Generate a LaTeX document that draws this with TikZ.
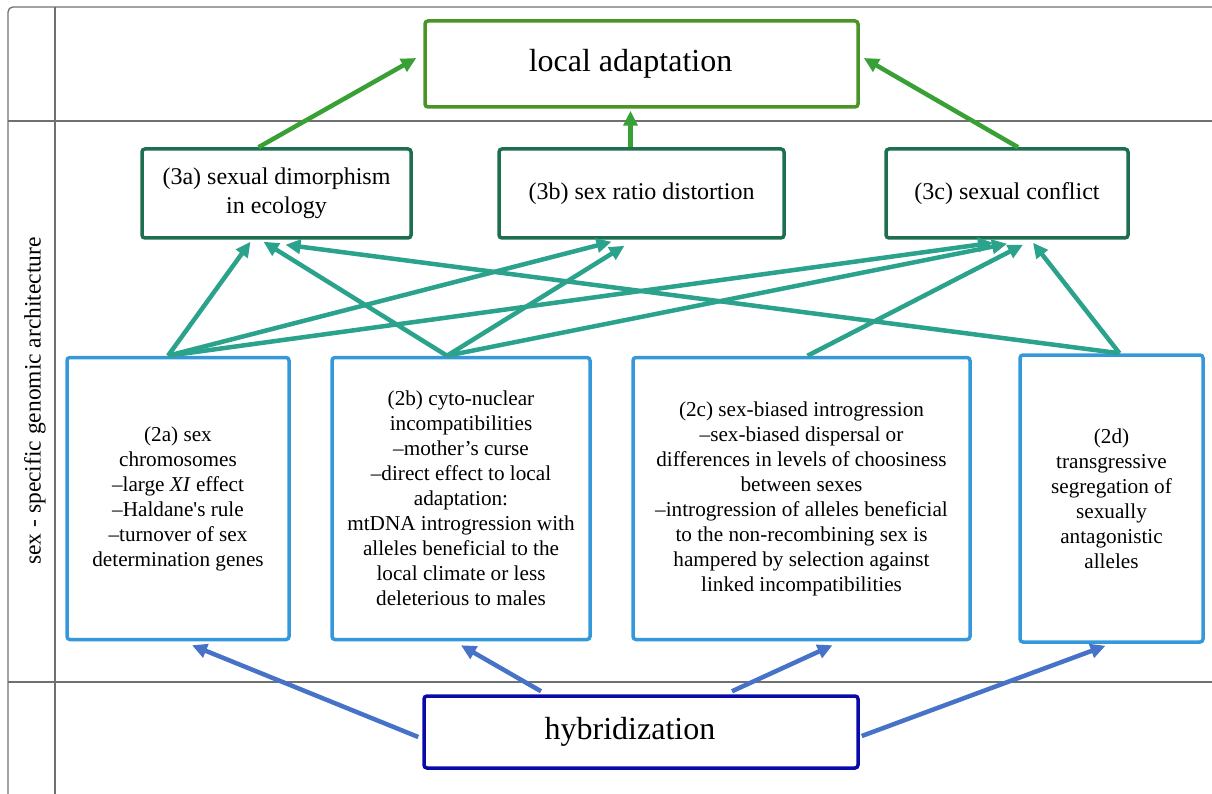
\documentclass[tikz,border=0pt]{standalone}
\usepackage{fontspec}
\setmainfont{Liberation Serif}[Ligatures=TeXOff]
\usepackage{tikz}
\usetikzlibrary{arrows.meta}
\usepackage{xcolor}
\definecolor{tablegray}{HTML}{707070}
\definecolor{lagreen}{HTML}{4A9426}
\definecolor{arrgreen}{HTML}{38A034}
\definecolor{effteal}{HTML}{1E6E50}
\definecolor{arrteal}{HTML}{2AA28C}
\definecolor{archblue}{HTML}{3498DB}
\definecolor{arrblue}{HTML}{4673C8}
\definecolor{hybblue}{HTML}{0A0AAA}
\newcommand\boxfont{\fontsize{21.2}{25}\selectfont}
\newcommand\effont{\fontsize{24}{29}\selectfont}
\newcommand\bigfont{\fontsize{32}{38}\selectfont}

\begin{document}
\begin{tikzpicture}[x=1pt,y=-1pt,
  grid/.style={draw=tablegray,line width=1.3pt},
  labbox/.style={line width=3.5pt,rounded corners=3pt,align=center,inner sep=0pt},
  topbox/.style={labbox,draw=lagreen,minimum width=433pt,minimum height=86pt,font=\bigfont},
  effbox/.style={labbox,draw=effteal,minimum height=89pt,font=\effont},
  archbox/.style={labbox,draw=archblue,minimum height=282pt,font=\boxfont},
  hybbox/.style={labbox,draw=hybblue,minimum width=434pt,minimum height=72pt,font=\bigfont},
  upgreen/.style={draw=arrgreen,line width=4.5pt,-{Triangle[length=15pt,width=14pt]}},
  upteal/.style={draw=arrteal,line width=4.5pt,-{Triangle[length=15pt,width=14pt]}},
  upblue/.style={draw=arrblue,line width=4.5pt,-{Triangle[length=15pt,width=14pt]}}]
\useasboundingbox (0,0) rectangle (1212,794);

% table frame
\draw[grid,rounded corners=5pt] (8,794) -- (8,7) -- (1212,7);
\draw[grid] (55,7) -- (55,794);
\draw[grid] (8,121) -- (1212,121);
\draw[grid] (8,682) -- (1212,682);
\node[rotate=90,font=\fontsize{23.5}{28}\selectfont] (arch) at (35,401) {sex - specific genomic architecture};

% outcome
\node[topbox] (la) at (641.5,64) {local adaptation\hspace*{22pt}};

% effects
\node[effbox,minimum width=269pt] (n3a) at (276.5,193.5) {(3a) sexual dimorphism\\in ecology};
\node[effbox,minimum width=285pt] (n3b) at (641.5,193.5) {(3b) sex ratio distortion};
\node[effbox,minimum width=242pt] (n3c) at (1007,193.5) {(3c) sexual conflict};

% genomic architecture
\node[archbox,minimum width=222pt] (n2a) at (178,498.5) {(2a) sex\\chromosomes\\–large \textit{XI} effect\\–Haldane's rule\\–turnover of sex\\determination genes};
\node[archbox,minimum width=258pt] (n2b) at (461,498.5) {(2b) cyto-nuclear\\incompatibilities\\–mother’s curse\\–direct effect to local\\adaptation:\\mtDNA introgression with\\alleles beneficial to the\\local climate or less\\deleterious to males};
\node[archbox,minimum width=337pt] (n2c) at (801.5,498.5) {(2c) sex-biased introgression\\–sex-biased dispersal or\\differences in levels of choosiness\\between sexes\\–introgression of alleles beneficial\\to the non-recombining sex is\\hampered by selection against\\linked incompatibilities};
\node[archbox,minimum width=183pt,minimum height=287pt] (n2d) at (1111.5,498.5) {(2d)\\transgressive\\segregation of\\sexually\\antagonistic\\alleles};

% origin
\node[hybbox] (hy) at (641,732) {hybridization\hspace*{22pt}};

% effects -> local adaptation
\draw[upgreen] ([xshift=-18pt]n3a.north) -- ([xshift=-7pt,yshift=6pt]la.west);
\draw[upgreen] ([xshift=-11pt]n3b.north) -- ([xshift=-11pt,yshift=-2pt]la.south);
\draw[upgreen] ([xshift=11pt]n3c.north) -- ([xshift=4pt,yshift=6pt]la.east);

% architecture -> effects
\draw[upteal] ([xshift=-10pt]n2a.north) -- ([xshift=-26pt,yshift=-2pt]n3a.south);
\draw[upteal] ([xshift=-10pt]n2a.north) -- ([xshift=-30pt,yshift=-2pt]n3b.south);
\draw[upteal] ([xshift=-10pt]n2a.north) -- ([xshift=-14pt,yshift=-3pt]n3c.south);
\draw[upteal] ([xshift=-14pt]n2b.north) -- ([xshift=-13pt,yshift=-2pt]n3a.south);
\draw[upteal] ([xshift=-14pt]n2b.north) -- ([xshift=-17pt,yshift=-6pt]n3b.south);
\draw[upteal] ([xshift=-14pt]n2b.north) -- ([yshift=-4pt]n3c.south);
\draw[upteal] ([xshift=6pt]n2c.north) -- ([xshift=16pt,yshift=-5pt]n3c.south);
\draw[upteal] ([xshift=8pt]n2d.north) -- ([xshift=9pt,yshift=-5pt]n3a.south);
\draw[upteal] ([xshift=8pt]n2d.north) -- ([xshift=26pt,yshift=-3pt]n3c.south);

% hybridization -> architecture
\draw[upblue] ([xshift=-4pt,yshift=-5pt]hy.west) -- ([xshift=14pt,yshift=-4pt]n2a.south);
\draw[upblue] ([xshift=-100pt,yshift=3pt]hy.north) -- ([yshift=-4pt]n2b.south);
\draw[upblue] ([xshift=91pt,yshift=3pt]hy.north) -- ([xshift=31pt,yshift=-4pt]n2c.south);
\draw[upblue] ([xshift=2pt,yshift=-4pt]hy.east) -- ([xshift=-6pt,yshift=-2pt]n2d.south);
\end{tikzpicture}
\end{document}
